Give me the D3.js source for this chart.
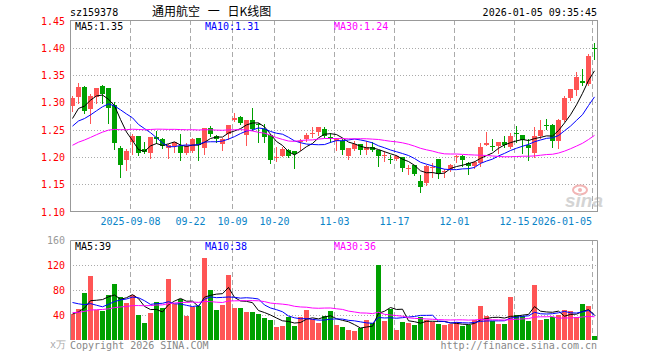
<!DOCTYPE html>
<html><head><meta charset="utf-8">
<script src="https://cdn.jsdelivr.net/npm/d3@7"></script>
<style>
html,body{margin:0;padding:0;background:#fff;}
svg{display:block;}
text{font-family:"DejaVu Sans Mono",monospace;font-size:10px;}
</style></head>
<body><svg id="c" width="660" height="360"></svg>
<script>
const dates = ["2025-08-25","2025-08-26","2025-08-27","2025-08-28","2025-08-29",
"2025-09-01","2025-09-02","2025-09-03","2025-09-04","2025-09-05",
"2025-09-08","2025-09-09","2025-09-10","2025-09-11","2025-09-12",
"2025-09-15","2025-09-16","2025-09-17","2025-09-18","2025-09-19",
"2025-09-22","2025-09-23","2025-09-24","2025-09-25","2025-09-26",
"2025-09-29","2025-09-30","2025-10-09","2025-10-10",
"2025-10-13","2025-10-14","2025-10-15","2025-10-16","2025-10-17",
"2025-10-20","2025-10-21","2025-10-22","2025-10-23","2025-10-24",
"2025-10-27","2025-10-28","2025-10-29","2025-10-30","2025-10-31",
"2025-11-03","2025-11-04","2025-11-05","2025-11-06","2025-11-07",
"2025-11-10","2025-11-11","2025-11-12","2025-11-13","2025-11-14",
"2025-11-17","2025-11-18","2025-11-19","2025-11-20","2025-11-21",
"2025-11-24","2025-11-25","2025-11-26","2025-11-27","2025-11-28",
"2025-12-01","2025-12-02","2025-12-03","2025-12-04","2025-12-05",
"2025-12-08","2025-12-09","2025-12-10","2025-12-11","2025-12-12",
"2025-12-15","2025-12-16","2025-12-17","2025-12-18","2025-12-19",
"2025-12-22","2025-12-23","2025-12-24","2025-12-25","2025-12-26",
"2025-12-29","2025-12-30","2025-12-31","2026-01-05"];

const opens = [1.294,1.310,1.329,1.287,1.310,1.330,1.326,1.295,1.216,1.194,
1.227,1.238,1.214,1.207,1.237,1.233,1.217,1.220,1.220,1.207,
1.211,1.234,1.217,1.253,1.239,1.223,1.242,1.267,1.274,1.240,
1.268,1.260,1.252,1.241,1.1998,1.202,1.213,1.211,1.227,1.233,
1.243,1.245,1.251,1.236,1.230,1.229,1.202,1.215,1.223,1.213,
1.218,1.212,1.201,1.196,1.196,1.199,1.179,1.185,1.155,1.153,
1.179,1.196,1.172,1.177,1.199,1.202,1.189,1.183,1.189,1.222,
1.220,1.220,1.228,1.218,1.243,1.240,1.222,1.207,1.239,1.258,
1.259,1.229,1.267,1.308,1.322,1.340,1.333,1.399];
const highs = [1.311,1.335,1.330,1.315,1.327,1.331,1.327,1.301,1.220,1.214,
1.242,1.239,1.227,1.237,1.248,1.234,1.223,1.228,1.242,1.225,
1.234,1.235,1.253,1.256,1.240,1.234,1.258,1.280,1.275,1.268,
1.290,1.262,1.261,1.242,1.218,1.219,1.214,1.211,1.233,1.243,
1.254,1.254,1.254,1.243,1.235,1.233,1.216,1.229,1.224,1.229,
1.227,1.213,1.211,1.203,1.203,1.199,1.185,1.186,1.166,1.185,
1.188,1.197,1.178,1.187,1.204,1.204,1.191,1.192,1.226,1.245,
1.232,1.227,1.239,1.244,1.257,1.241,1.232,1.255,1.267,1.270,
1.260,1.270,1.311,1.325,1.355,1.361,1.388,1.409];
const lows = [1.285,1.298,1.281,1.263,1.299,1.298,1.263,1.215,1.163,1.176,
1.205,1.204,1.207,1.198,1.225,1.216,1.198,1.209,1.195,1.205,
1.209,1.195,1.205,1.238,1.227,1.212,1.232,1.266,1.261,1.221,
1.249,1.227,1.228,1.188,1.193,1.201,1.199,1.179,1.212,1.230,
1.236,1.240,1.236,1.227,1.213,1.205,1.196,1.213,1.205,1.206,
1.210,1.183,1.193,1.189,1.195,1.175,1.169,1.166,1.136,1.149,
1.164,1.162,1.163,1.174,1.190,1.184,1.169,1.180,1.184,1.221,
1.212,1.208,1.218,1.216,1.227,1.207,1.194,1.200,1.235,1.251,
1.218,1.216,1.265,1.304,1.313,1.331,1.331,1.379];
const closes = [1.308,1.329,1.285,1.311,1.326,1.316,1.290,1.226,1.185,1.211,
1.238,1.207,1.209,1.236,1.233,1.220,1.222,1.227,1.207,1.220,
1.233,1.221,1.253,1.242,1.233,1.233,1.258,1.272,1.263,1.267,
1.251,1.259,1.236,1.195,1.2004,1.215,1.202,1.206,1.230,1.241,
1.244,1.254,1.239,1.235,1.233,1.213,1.216,1.223,1.213,1.218,
1.213,1.201,1.203,1.194,1.201,1.180,1.180,1.168,1.144,1.183,
1.182,1.169,1.174,1.186,1.201,1.194,1.184,1.190,1.218,1.226,
1.218,1.227,1.221,1.239,1.242,1.231,1.217,1.239,1.250,1.256,
1.229,1.268,1.308,1.325,1.347,1.335,1.385,1.397];
const volumes = [41.6,49.6,75.7,103,48,47,72,90,69,60,
72,40,27.7,43.7,61.3,51.7,97.6,57,65,39,
52.3,54.4,131.7,80,48.5,56,104.5,51.7,51.7,45.3,
45.3,41.6,35.7,32,21.3,23,36.3,23,36.3,48,
33.6,27.7,38.4,46.4,24,20.8,16.5,15,19.7,32,
27.2,120,31,49.6,16.5,29.3,27.2,24,37.3,32,
29.3,26,24,25.6,28.3,22.4,24,32,55,38.4,
31,25.6,25.6,68.8,40,39,31,88.5,32,34,
36.3,40,48,46.4,36.3,57.6,54.4,6.4];

// closes and volumes of the 29 sessions before the visible window (estimated, they feed the moving averages)
const histCloses = [1.160,1.165,1.170,1.175,1.175,1.180,1.186,1.200,1.210,1.215,
1.220,1.225,1.220,1.215,1.225,1.230,1.225,1.220,1.230,1.231,
1.235,1.240,1.245,1.250,1.2425,1.237,1.2635,1.2565,1.287];
const histVolumes = [30,34,38,32,36,40,33,37,35,31,39,36,34,38,42,35,33,37,36,36,
70,90,85,75,71.5,32.6,45,44,44.8];

const priceTicks = [1.10,1.15,1.20,1.25,1.30,1.35,1.40,1.45];
const priceTickLabels = ["1.10","1.15","1.20","1.25","1.30","1.35","1.40","1.45"];
const volTicks = [40,80,120,160];
const volTickLabels = ["40","80","120","160"];
const dateTicks = ["2025-09-08","2025-09-22","2025-10-09","2025-10-20","2025-11-03","2025-11-17","2025-12-01","2025-12-15","2026-01-05"];
const dateTickLabels = ["2025-09-08","09-22","10-09","10-20","11-03","11-17","12-01","12-15","2026-01-05"];
const priceMALabels = ["MA5:1.35","MA10:1.31","MA30:1.24"];
const volMALabels = ["MA5:39","MA10:38","MA30:36"];
const maPeriods = [5,10,30];
const maColors = ["#000000","#0000ff","#ff00ff"];

const svg = d3.select("#c");
const L = 70, R = 597, pTop = 20, pBot = 211, vTop = 240, vBot = 340;
const UP = "#ff5555", DOWN = "#00a000";

const x = d3.scaleLinear().domain([0, dates.length - 1]).range([72.5, 72.5 + 6 * (dates.length - 1)]);
const y = d3.scaleLinear().domain([1.10, 1.45]).range([211.5, 20.5]);
const yv = d3.scaleLinear().domain([0, 160]).range([vBot, vTop]);
const idx = d => dates.indexOf(d);

function movingAvg(hist, vals, n) {
  const all = hist.concat(vals);
  return vals.map((v, i) => {
    const k = i + hist.length;
    return d3.mean(all.slice(k - n + 1, k + 1));
  });
}

// header
svg.append("text").attr("x", L).attr("y", 16).text("sz159378");
svg.append("text").attr("x", 152).attr("y", 16)
  .style("font-family", '"Noto Sans CJK SC",sans-serif').style("font-size", "12px")
  .style("white-space", "pre").style("word-spacing", "5px")
  .text("通用航空 一 日K线图");
svg.append("text").attr("x", R).attr("y", 16).attr("text-anchor", "end").text("2026-01-05 09:35:45");

// grid
const gp = svg.append("g");
priceTicks.slice(1, -1).forEach(t => {
  gp.append("line").attr("x1", L).attr("x2", R).attr("y1", Math.round(y(t)) + 0.5).attr("y2", Math.round(y(t)) + 0.5)
    .attr("stroke", "#aaa").attr("stroke-dasharray", "1,2");
});
volTicks.slice(0, -1).forEach(t => {
  gp.append("line").attr("x1", L).attr("x2", R).attr("y1", yv(t) + 0.5).attr("y2", yv(t) + 0.5)
    .attr("stroke", "#aaa").attr("stroke-dasharray", "1,2");
});
dateTicks.forEach(d => {
  const xx = x(idx(d)) - 2;
  gp.append("line").attr("x1", xx).attr("x2", xx).attr("y1", pTop).attr("y2", pBot).attr("stroke", "#aaa").attr("stroke-dasharray", "5,3");
  gp.append("line").attr("x1", xx).attr("x2", xx).attr("y1", vTop).attr("y2", vBot).attr("stroke", "#aaa").attr("stroke-dasharray", "5,3");
});

// axis labels
priceTicks.forEach((t, i) => {
  svg.append("text").attr("x", 65).attr("y", y(t) + 4).attr("text-anchor", "end").attr("fill", "#ff0000").text(priceTickLabels[i]);
});
volTicks.forEach((t, i) => {
  svg.append("text").attr("x", 65).attr("y", yv(t) + 4).attr("text-anchor", "end")
    .attr("fill", t === 160 ? "#999" : "#ff0000").text(volTickLabels[i]);
});
svg.append("text").attr("x", 66).attr("y", 348).attr("text-anchor", "end").attr("fill", "#aaa").text("x万");
dateTicks.forEach((d, i) => {
  const xx = x(idx(d)) - 2;
  const last = i === dateTicks.length - 1;
  svg.append("text").attr("x", last ? 592 : xx).attr("y", 225).attr("text-anchor", last ? "end" : "middle")
    .attr("fill", "#0a84c8").text(dateTickLabels[i]);
});

// watermark
const wm = svg.append("g");
wm.append("ellipse").attr("cx", 580).attr("cy", 190).attr("rx", 7).attr("ry", 4.5).attr("fill", "none").attr("stroke", "#f2b4b4").attr("stroke-width", 2);
wm.append("circle").attr("cx", 580).attr("cy", 190).attr("r", 2).attr("fill", "#f2b4b4");
wm.append("text").attr("x", 565).attr("y", 207).style("font-family", '"Liberation Sans",sans-serif')
  .style("font-size", "19px").style("font-weight", "bold").style("font-style", "italic").attr("fill", "#d4d4d4").text("sina");

// candles
const cg = svg.append("g");
dates.forEach((d, i) => {
  const o = opens[i], c = closes[i], h = highs[i], l = lows[i];
  const col = c >= o ? UP : DOWN;
  const xc = x(i);
  cg.append("line").attr("x1", xc).attr("x2", xc).attr("y1", Math.round(y(h))).attr("y2", Math.round(y(l)) + 1).attr("stroke", col);
  const yt = Math.round(y(Math.max(o, c))), yb = Math.round(y(Math.min(o, c)));
  cg.append("rect").attr("x", xc - 2.5).attr("y", yt).attr("width", 5).attr("height", Math.max(1, yb - yt)).attr("fill", col);
});

// volume bars
const vg = svg.append("g");
dates.forEach((d, i) => {
  const col = closes[i] >= opens[i] ? UP : DOWN;
  const top = Math.round(yv(volumes[i]));
  vg.append("rect").attr("x", x(i) - 2.5).attr("y", top).attr("width", 5).attr("height", vBot - top).attr("fill", col);
});

// moving averages
maPeriods.forEach((n, k) => {
  const pm = movingAvg(histCloses, closes, n);
  svg.append("path").attr("d", d3.line().x((v, i) => x(i)).y(v => y(v))(pm))
    .attr("fill", "none").attr("stroke", maColors[k]).attr("stroke-width", 1);
  const vm = movingAvg(histVolumes, volumes, n);
  svg.append("path").attr("d", d3.line().x((v, i) => x(i)).y(v => yv(v))(vm))
    .attr("fill", "none").attr("stroke", maColors[k]).attr("stroke-width", 1);
});

// frames
svg.append("rect").attr("x", L + 0.5).attr("y", pTop + 0.5).attr("width", R - L).attr("height", pBot - pTop).attr("fill", "none").attr("stroke", "#999");
svg.append("path").attr("d", `M${L + 0.5},${vBot}V${vTop + 0.5}H${R + 0.5}V${vBot}`).attr("fill", "none").attr("stroke", "#999");

// MA legends
const legX = [75, 205, 334];
priceMALabels.forEach((t, k) => svg.append("text").attr("x", legX[k]).attr("y", 30).attr("fill", maColors[k]).text(t));
volMALabels.forEach((t, k) => svg.append("text").attr("x", legX[k]).attr("y", 250).attr("fill", maColors[k]).text(t));

// footer
svg.append("text").attr("x", L).attr("y", 349).attr("fill", "#888").text("Copyright 2026 SINA.COM");
svg.append("text").attr("x", R).attr("y", 349).attr("text-anchor", "end").attr("fill", "#888").text("http://finance.sina.com.cn");
</script></body></html>
